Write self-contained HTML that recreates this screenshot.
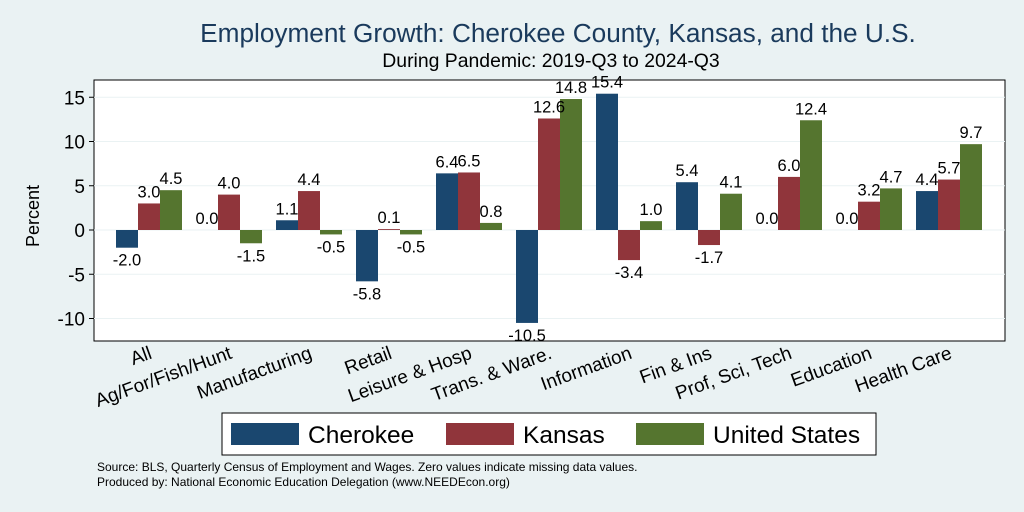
<!DOCTYPE html>
<html><head><meta charset="utf-8"><style>
body{margin:0;background:#eaf2f3;}
svg{display:block;font-family:"Liberation Sans",Arial,sans-serif;}
</style></head><body>
<svg id="c" width="1024" height="512">
<rect x="0" y="0" width="1024" height="512" fill="#eaf2f3"/>
<text x="558" y="42" text-anchor="middle" font-size="26.2" fill="#1a3a5c">Employment Growth: Cherokee County, Kansas, and the U.S.</text>
<text x="551" y="67" text-anchor="middle" font-size="19.4" fill="#000">During Pandemic: 2019-Q3 to 2024-Q3</text>
<rect x="94" y="80" width="911" height="261" fill="#fff" stroke="#000" stroke-width="1"/>
<g id="grid"></g><g id="bars"></g><g id="labels"></g>
<text transform="translate(39,216) rotate(-90)" text-anchor="middle" font-size="18">Percent</text>
<g>
<rect x="222" y="413" width="654" height="42" fill="#fff" stroke="#000"/>
<rect x="231" y="423" width="68" height="22" fill="#1a476f"/>
<text x="308" y="443" font-size="24.5">Cherokee</text>
<rect x="446" y="423" width="68" height="22" fill="#90353b"/>
<text x="523" y="443" font-size="24.5">Kansas</text>
<rect x="636" y="423" width="68" height="22" fill="#55752f"/>
<text x="713" y="443" font-size="24.5">United States</text>
</g>
<text x="97" y="471" font-size="12">Source: BLS, Quarterly Census of Employment and Wages. Zero values indicate missing data values.</text>
<text x="97" y="486" font-size="12">Produced by: National Economic Education Delegation (www.NEEDEcon.org)</text>
</svg>
<script>
const categories=["All","Ag/For/Fish/Hunt","Manufacturing","Retail","Leisure & Hosp","Trans. & Ware.","Information","Fin & Ins","Prof, Sci, Tech","Education","Health Care"];
const cherokee=[-2.0,0.0,1.1,-5.8,6.4,-10.5,15.4,5.4,0.0,0.0,4.4];
const kansas=[3.0,4.0,4.4,0.1,6.5,12.6,-3.4,-1.7,6.0,3.2,5.7];
const us=[4.5,-1.5,-0.5,-0.5,0.8,14.8,1.0,4.1,12.4,4.7,9.7];
const yTicks=[-10,-5,0,5,10,15];
const NS="http://www.w3.org/2000/svg";
const y=v=>230-v*8.85;
const xc=i=>149+i*80;
function mk(t,a,p){const e=document.createElementNS(NS,t);for(const k in a)e.setAttribute(k,a[k]);p.appendChild(e);return e;}
const grid=document.getElementById('grid'),bars=document.getElementById('bars'),labels=document.getElementById('labels');
yTicks.forEach(t=>{
 const l=mk('line',{x1:94,x2:1005,y1:y(t),y2:y(t),stroke:'#eaf2f3','stroke-width':1},grid);
 
 
 mk('line',{x1:89,x2:94,y1:y(t),y2:y(t),stroke:'#000'},grid);
 const tx=mk('text',{x:85,y:y(t)+7,'text-anchor':'end','font-size':19},grid);tx.textContent=t;
 
 
});
const series=[[cherokee,'#1a476f',-22,'cherokee'],[kansas,'#90353b',0,'kansas'],[us,'#55752f',22,'us']];
categories.forEach((c,i)=>{
 series.forEach(([arr,col,off,nm])=>{
  const v=arr[i],cx=xc(i)+off;
  const r=mk('rect',{x:cx-11,y:Math.min(y(v),y(0)),width:22,height:Math.abs(y(v)-y(0)),fill:col},bars);
  
  
  const t=mk('text',{x:cx,y:v>=0?y(v)-6:y(v)+18,'text-anchor':'middle','font-size':16.5},labels);
  t.textContent=v.toFixed(1);
  
  
 });
 const t=mk('text',{transform:`translate(${xc(i)+4},358) rotate(-20)`,'text-anchor':'end','font-size':19},labels);
 t.textContent=c;
 
 
});
</script>
</body></html>
